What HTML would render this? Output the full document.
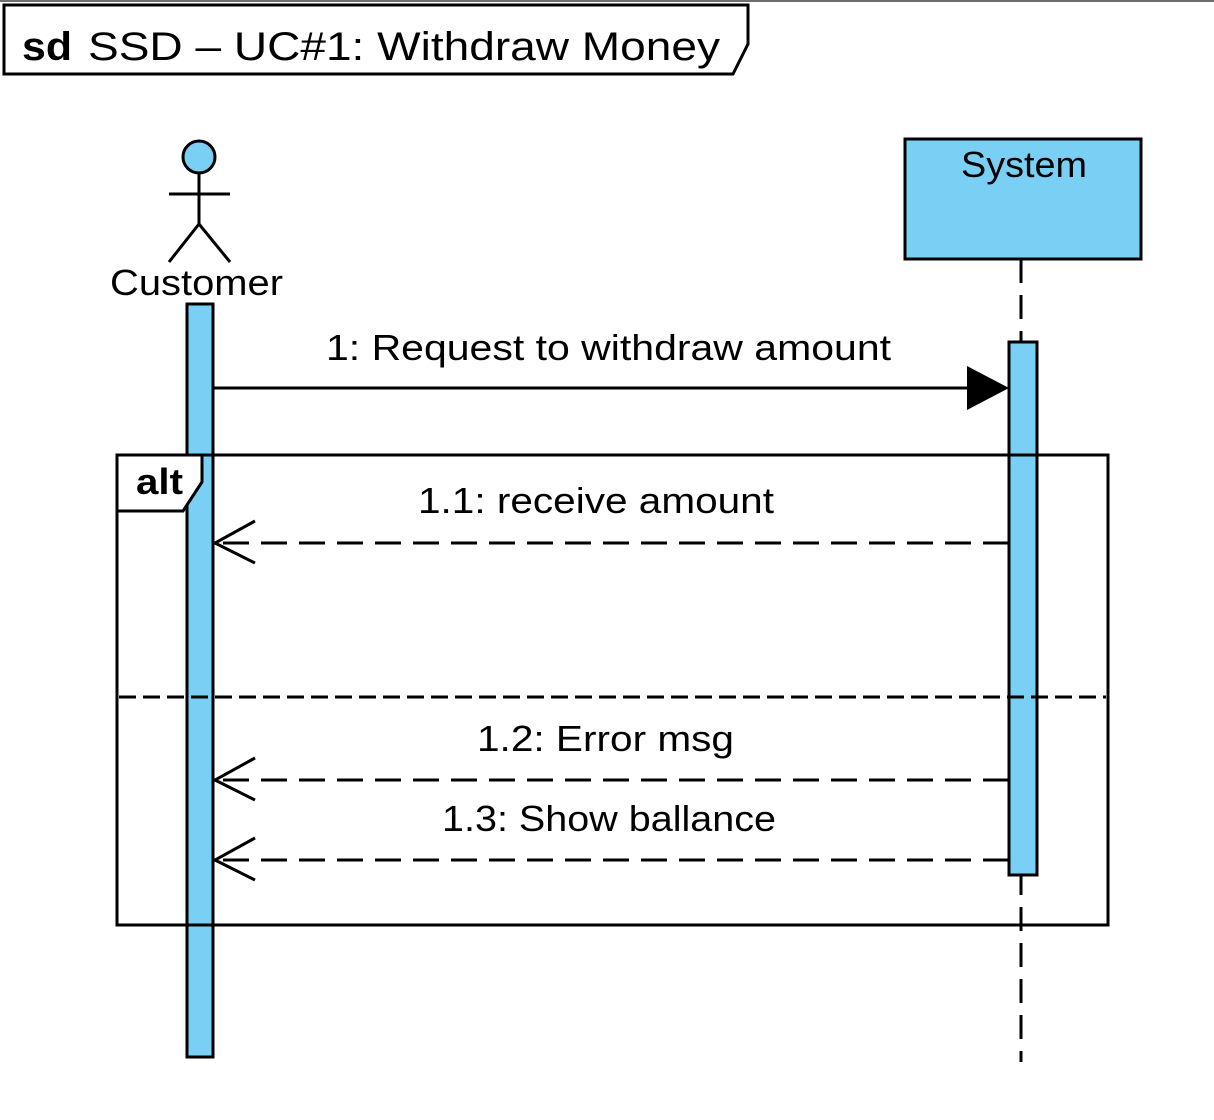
<!DOCTYPE html>
<html><head><meta charset="utf-8"><style>html,body{margin:0;padding:0;background:#fff}svg{display:block}</style></head>
<body>
<svg width="1214" height="1120" viewBox="0 0 1214 1120" xmlns="http://www.w3.org/2000/svg" font-family="'Liberation Sans', 'DejaVu Sans', sans-serif">
<rect x="0" y="0" width="1214" height="2" fill="#6e6e6e"/>
<path d="M4,5 H748 V44 L733,74 H4 Z" fill="#fff" stroke="#000" stroke-width="3"/>
<text x="22" y="60" font-size="40" font-weight="bold" textLength="50" lengthAdjust="spacingAndGlyphs">sd</text>
<text x="88" y="60" font-size="40" textLength="632" lengthAdjust="spacingAndGlyphs">SSD – UC#1: Withdraw Money</text>
<circle cx="199" cy="157" r="16" fill="#7acff5" stroke="#000" stroke-width="3"/>
<line x1="199" y1="173" x2="199" y2="224" stroke="#000" stroke-width="3"/>
<line x1="169" y1="194" x2="230" y2="194" stroke="#000" stroke-width="3"/>
<path d="M169,262 L199,224 L230,262" fill="none" stroke="#000" stroke-width="3"/>
<text x="110" y="295" font-size="36" textLength="173" lengthAdjust="spacingAndGlyphs">Customer</text>
<rect x="905" y="139" width="236" height="120" fill="#7acff5" stroke="#000" stroke-width="3"/>
<text x="961" y="177" font-size="36" textLength="126" lengthAdjust="spacingAndGlyphs">System</text>
<line x1="1021" y1="259" x2="1021" y2="1062" stroke="#000" stroke-width="3" stroke-dasharray="24,12"/>
<rect x="187" y="304" width="26" height="753" fill="#7acff5" stroke="#000" stroke-width="3"/>
<rect x="1009" y="342" width="28" height="533" fill="#7acff5" stroke="#000" stroke-width="3"/>
<text x="326" y="360" font-size="36" textLength="565" lengthAdjust="spacingAndGlyphs">1: Request to withdraw amount</text>
<line x1="213" y1="388" x2="970" y2="388" stroke="#000" stroke-width="3"/>
<path d="M967,366 L1009,388 L967,410 Z" fill="#000"/>
<rect x="117" y="455" width="991" height="470" fill="none" stroke="#000" stroke-width="3"/>
<path d="M117,455 H202 V482 L183,511 H117 Z" fill="#fff" stroke="#000" stroke-width="3"/>
<text x="136" y="494" font-size="36" font-weight="bold" textLength="47" lengthAdjust="spacingAndGlyphs">alt</text>
<line x1="119" y1="697" x2="1106" y2="697" stroke="#000" stroke-width="3" stroke-dasharray="17,7"/>
<g stroke="#000" stroke-width="3" fill="none">
<line x1="1009" y1="543" x2="220" y2="543" stroke-dasharray="26,12"/>
<path d="M255,521 L215,543 L255,563"/>
<line x1="1009" y1="780" x2="220" y2="780" stroke-dasharray="26,12"/>
<path d="M255,758 L215,780 L255,800"/>
<line x1="1009" y1="860" x2="220" y2="860" stroke-dasharray="26,12"/>
<path d="M255,838 L215,860 L255,880"/>
</g>
<text x="418" y="513" font-size="36" textLength="356" lengthAdjust="spacingAndGlyphs">1.1: receive amount</text>
<text x="477" y="751" font-size="36" textLength="257" lengthAdjust="spacingAndGlyphs">1.2: Error msg</text>
<text x="442" y="831" font-size="36" textLength="334" lengthAdjust="spacingAndGlyphs">1.3: Show ballance</text>
</svg>
</body></html>
